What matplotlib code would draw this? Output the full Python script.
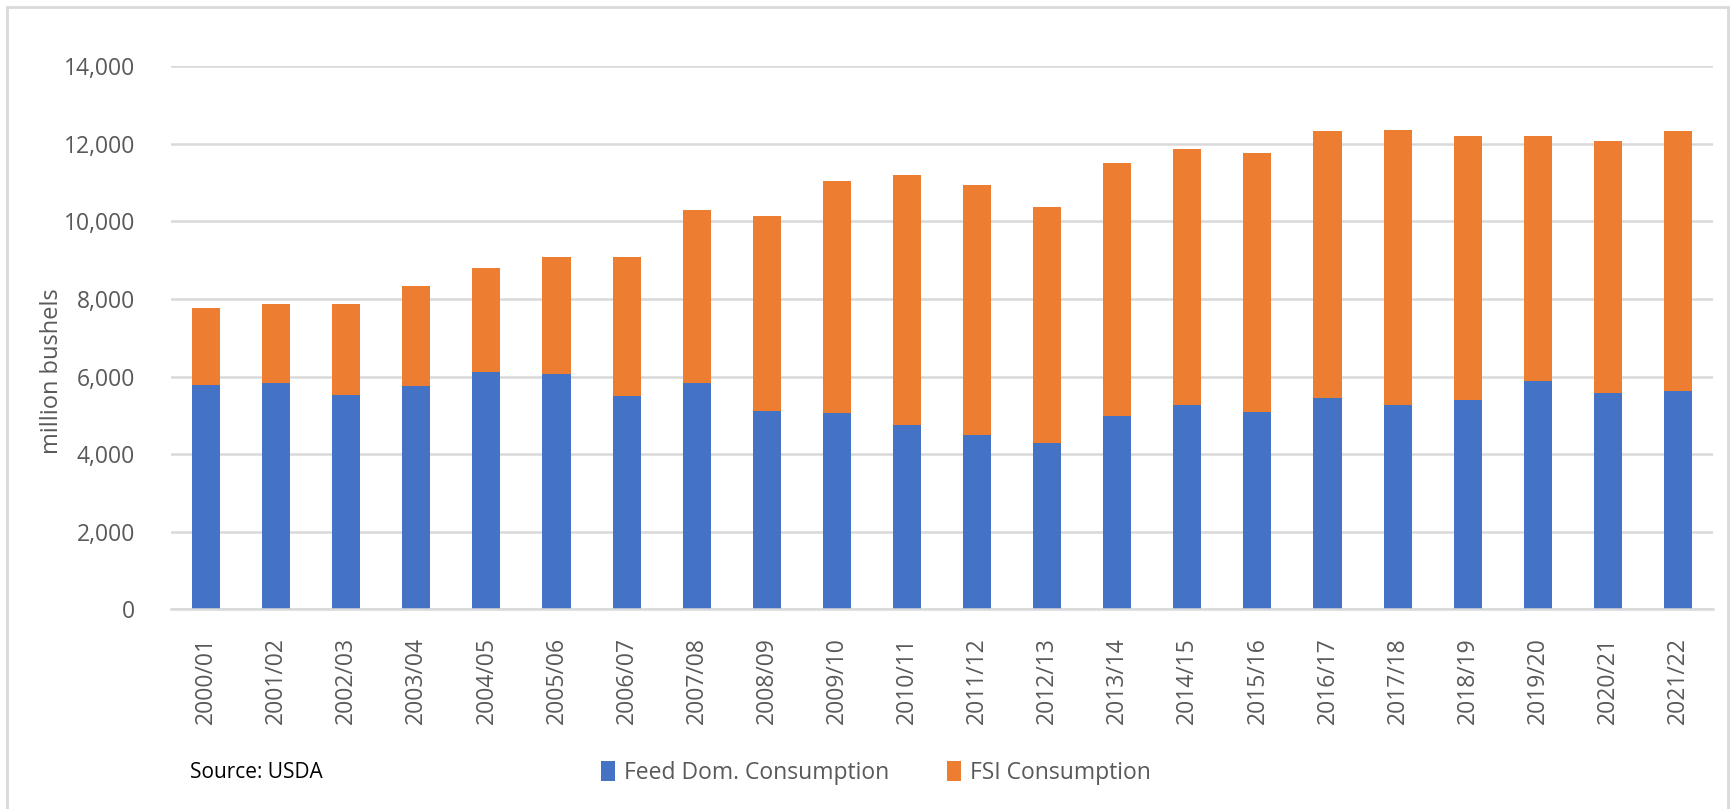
import matplotlib.pyplot as plt
import numpy as np
from matplotlib.patches import Rectangle

# Marketing years
years = ["2000/01", "2001/02", "2002/03", "2003/04", "2004/05", "2005/06",
         "2006/07", "2007/08", "2008/09", "2009/10", "2010/11", "2011/12",
         "2012/13", "2013/14", "2014/15", "2015/16", "2016/17", "2017/18",
         "2018/19", "2019/20", "2020/21", "2021/22"]

# Feed domestic consumption (million bushels)
feed = [5780, 5825, 5525, 5760, 6115, 6080, 5505, 5825, 5110, 5065,
        4745, 4490, 4285, 4980, 5270, 5100, 5450, 5270, 5405, 5890,
        5590, 5620]

# Total consumption (feed + FSI), top of each bar
total = [7760, 7875, 7875, 8325, 8805, 9095, 9075, 10290, 10150, 11050,
         11200, 10930, 10365, 11520, 11875, 11755, 12330, 12355, 12215,
         12195, 12065, 12330]

fsi = [t - f for t, f in zip(total, feed)]

yticks = [0, 2000, 4000, 6000, 8000, 10000, 12000, 14000]

plt.rcParams["font.family"] = ["Open Sans", "DejaVu Sans"]

W, H = 1732, 809
fig = plt.figure(figsize=(W / 100, H / 100), dpi=100)

# Light grey frame around the chart area
fig.patches.append(Rectangle((7 / W, -0.02), (1728 - 7) / W, 1 - 7 / H + 0.02,
                             transform=fig.transFigure, fill=False,
                             edgecolor="#D9D9D9", linewidth=2))

ax = fig.add_axes([171 / W, 1 - 609.4 / H, (1713 - 171) / W, (609.4 - 66.3) / H])

x = np.arange(len(years))
width = 0.4
ax.bar(x, feed, width, color="#4472C4", label="Feed Dom. Consumption", zorder=2)
ax.bar(x, fsi, width, bottom=feed, color="#ED7D31", label="FSI Consumption", zorder=2)

ax.set_xlim(-0.5, len(years) - 0.5)
ax.set_ylim(0, 14000)
ax.set_yticks(yticks)
ax.set_yticklabels([f"{v:,}" for v in yticks])
ax.set_xticks(x)
ax.set_xticklabels(years, rotation=90)

ax.grid(axis="y", color="#D9D9D9", linewidth=1.8, zorder=0)
for s in ["top", "right", "left"]:
    ax.spines[s].set_visible(False)
ax.spines["bottom"].set_color("#D9D9D9")
ax.spines["bottom"].set_linewidth(1.8)
ax.tick_params(axis="both", length=0, colors="#595959", labelsize=16.5)
ax.tick_params(axis="y", pad=26)
ax.tick_params(axis="x", pad=20)

# y label placed by hand: centred a bit below the middle of the plot area
fig.text(52 / W, 1 - 371 / H, "million bushels", fontsize=17, color="#595959",
         rotation=90, ha="center", va="center")

fig.text(190 / W, 1 - 773 / H, "Source: USDA", fontsize=15, color="black",
         va="center", ha="left")

leg = fig.legend(loc="center", bbox_to_anchor=(876 / W, 1 - 773 / H),
                 ncol=2, frameon=False, fontsize=16.5, handlelength=0.6,
                 handleheight=1.0, handletextpad=0.4, columnspacing=2.5)
for t in leg.get_texts():
    t.set_color("#595959")

fig.savefig("out.png", dpi=100)
